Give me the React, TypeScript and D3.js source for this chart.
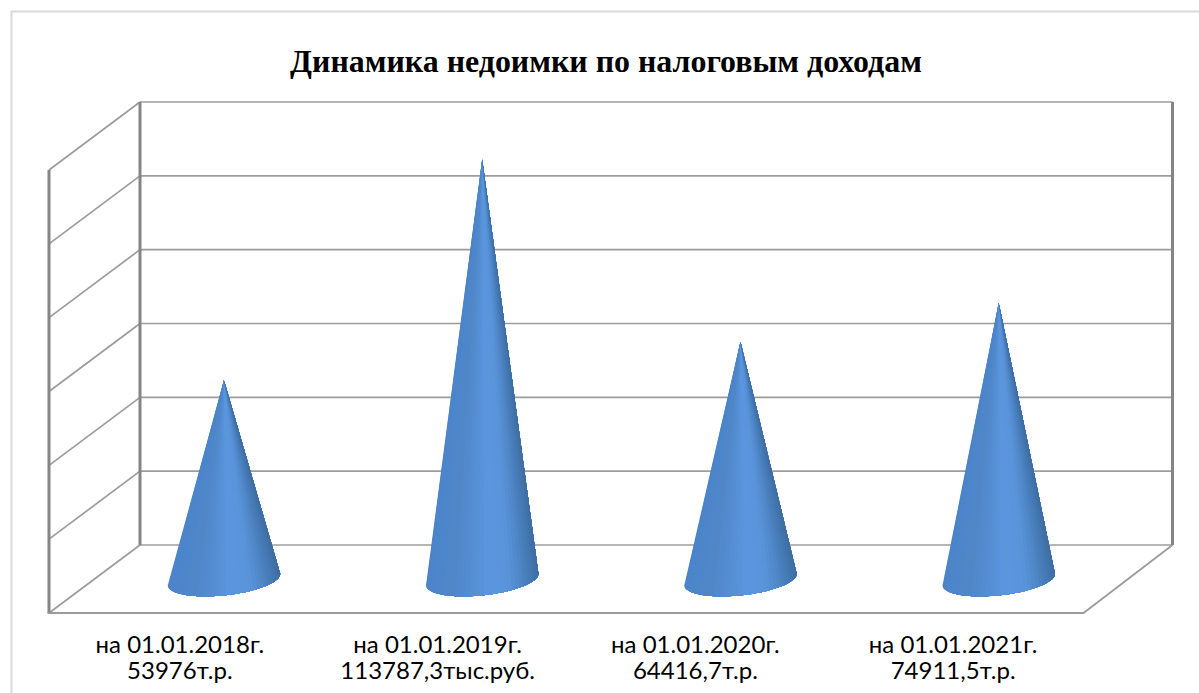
import React from "react";
import * as d3 from "d3";

const titleText = "Динамика недоимки по налоговым доходам";
const categories = ["на 01.01.2018г.", "на 01.01.2019г.", "на 01.01.2020г.", "на 01.01.2021г."];
const valueLabels = ["53976т.р.", "113787,3тыс.руб.", "64416,7т.р.", "74911,5т.р."];
const values = [53976, 113787.3, 64416.7, 74911.5];
const gridTicks = [0, 20000, 40000, 60000, 80000, 100000, 120000];

const W = 1199, H = 693;
const wallLeft = 140, wallRight = 1172.5, wallTop = 102, wallBottom = 545;
const depthX = -91, depthY = 68, floorFrontRight = 1083.5;
const baseY = 579.5;
const coneRx = 56.5, coneRy = 15.8, tilt = (-6.2 * Math.PI) / 180;
const gridColor = "#9c9c9c", wallColor = "#858585";

const yWall = d3.scaleLinear().domain([0, 120000]).range([wallBottom, wallTop]);
const xBand = d3.scaleBand<string>().domain(categories).range([95, 1128]);
const xLabel = d3.scaleBand<string>().domain(categories).range([51, 1082]);

const shade = d3
  .scaleLinear<string>()
  .domain([0, 0.1, 0.25, 0.42, 0.55, 0.72, 0.84, 0.94, 1])
  .range(["#4b84c9", "#4d86ca", "#5087c8", "#558fd4", "#5b96de", "#5a94db", "#5087c8", "#4478b2", "#3f6da1"]);

const facets = d3.range(36);
const line = d3.line();

function Cone({ cx, value }: { cx: number; value: number }) {
  const h = yWall(0) - yWall(value);
  const tip: [number, number] = [cx, baseY - h];
  const pt = (u: number): [number, number] => {
    const t = Math.PI * (1 - u);
    const ex = coneRx * Math.cos(t), ey = coneRy * Math.sin(t);
    return [cx + ex * Math.cos(tilt) - ey * Math.sin(tilt), baseY + ex * Math.sin(tilt) + ey * Math.cos(tilt)];
  };
  const n = facets.length;
  return (
    <g>
      {facets.map((i) => {
        // each facet also covers everything to its right, so the next one paints over with no seam
        const rim = d3.range(i, n + 1).map((j) => pt(j / n));
        const col = shade((pt((i + 0.5) / n)[0] - (cx - coneRx)) / (2 * coneRx));
        return <path key={i} d={line([tip, ...rim])! + "Z"} fill={col} />;
      })}
    </g>
  );
}

export default function App() {
  return (
    <svg width={W} height={H} viewBox={`0 0 ${W} ${H}`} style={{ position: "absolute", left: 0, top: 0, background: "#fff" }}>
      <path d={`M11.5 ${H}V11.5H${W}`} fill="none" stroke="#d9d9d9" strokeWidth={2} />
      <text x={606} y={72} textAnchor="middle" fontFamily="'Liberation Serif'" fontWeight="bold" fontSize={31.9} fill="#000">
        {titleText}
      </text>
      {gridTicks.map((t) => (
        <g key={t}>
          <line x1={wallLeft} x2={wallRight} y1={yWall(t)} y2={yWall(t)} stroke={gridColor} strokeWidth={1.7} />
          <line x1={wallLeft} y1={yWall(t)} x2={wallLeft + depthX} y2={yWall(t) + depthY} stroke={gridColor} strokeWidth={1.7} />
        </g>
      ))}
      <line x1={wallLeft} x2={wallLeft} y1={wallTop} y2={wallBottom} stroke={wallColor} strokeWidth={3} />
      <line x1={wallRight} x2={wallRight} y1={wallTop} y2={wallBottom} stroke={wallColor} strokeWidth={3} />
      <line x1={wallLeft + depthX} x2={wallLeft + depthX} y1={wallTop + depthY} y2={wallBottom + depthY} stroke={wallColor} strokeWidth={3} />
      <path
        d={`M${wallLeft + depthX - 1.5} ${wallBottom + depthY}H${floorFrontRight}L${wallRight} ${wallBottom}`}
        fill="none"
        stroke={gridColor}
        strokeWidth={1.8}
      />
      {categories.map((c, i) => (
        <Cone key={c} cx={xBand(c)! + xBand.bandwidth() / 2 - 0.2} value={values[i]} />
      ))}
      {categories.map((c, i) => {
        const x = xLabel(c)! + xLabel.bandwidth() / 2;
        return (
          <text key={c} x={x} textAnchor="middle" fontFamily="Lato" fontSize={24} fill="#000">
            <tspan x={x} y={653}>{c}</tspan>
            <tspan x={x} y={679}>{valueLabels[i]}</tspan>
          </text>
        );
      })}
    </svg>
  );
}
